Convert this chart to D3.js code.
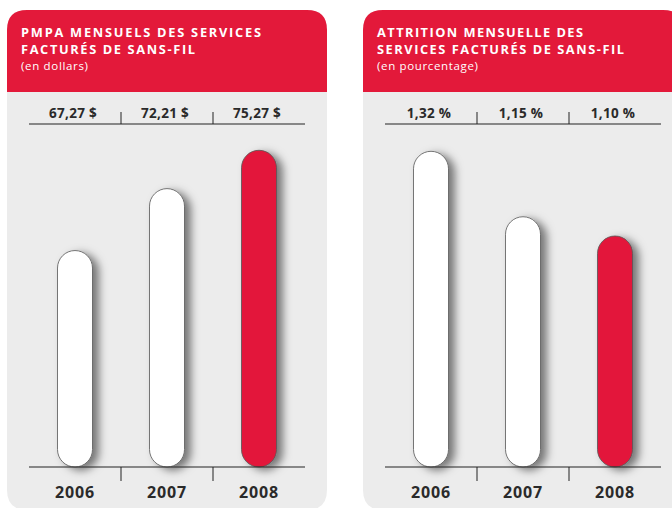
<html>
<head>
    <meta charset="utf-8">
    <title>PMPA et attrition</title>
    <script src="https://d3js.org/d3.v7.min.js"></script>
    <style>
        body { margin: 0; background: #fff; }
        text { font-family: "Open Sans", "DejaVu Sans", sans-serif; }
    </style>
</head>
<body>
<script>

    const width = 672;
    const height = 508;

    // data
    const years = ["2006", "2007", "2008"];
    const arpuValues = [67.27, 72.21, 75.27];
    const arpuLabels = ["67,27 $", "72,21 $", "75,27 $"];
    const churnValues = [1.32, 1.15, 1.10];
    const churnLabels = ["1,32 %", "1,15 %", "1,10 %"];
    const highlightYear = "2008";

    const red = "#E3193A";
    const grey = "#ECECEC";

    const panels = [
        {
            x: 7,
            title: ["PMPA MENSUELS DES SERVICES", "FACTURÉS DE SANS-FIL"],
            titleW: [240, 174],
            sub: "(en dollars)",
            subW: 67,
            values: arpuValues,
            labels: arpuLabels,
            domain: [50, 80],
            range: [467, 91]
        },
        {
            x: 363,
            title: ["ATTRITION MENSUELLE DES", "SERVICES FACTURÉS DE SANS-FIL"],
            titleW: [206, 247],
            sub: "(en pourcentage)",
            subW: 101,
            values: churnValues,
            labels: churnLabels,
            domain: [0.5, 1.4],
            range: [467, 120.5]
        }
    ];

    const svg = d3.select("body").append("svg")
        .attr("width", width)
        .attr("height", height);

    const defs = svg.append("defs");
    const f = defs.append("filter").attr("id", "shadow")
        .attr("x", "-50%").attr("y", "-20%").attr("width", "220%").attr("height", "140%");
    f.append("feDropShadow")
        .attr("dx", 6).attr("dy", 3)
        .attr("stdDeviation", 4)
        .attr("flood-color", "#000")
        .attr("flood-opacity", 0.5);

    const panelW = 320, panelTop = 10, headerBottom = 92, panelBottom = 510, r = 20;
    const baseline = 467, lineTop = 124;

    // rounded rect path, choose which corners are round
    const roundPath = (x0, y0, x1, y1, rt, rb) =>
        `M${x0},${y0 + rt} Q${x0},${y0} ${x0 + rt},${y0} L${x1 - rt},${y0} Q${x1},${y0} ${x1},${y0 + rt}` +
        ` L${x1},${y1 - rb} Q${x1},${y1} ${x1 - rb},${y1} L${x0 + rb},${y1} Q${x0},${y1} ${x0},${y1 - rb} Z`;

    panels.forEach(p => {
        const g = svg.append("g").attr("transform", `translate(${p.x},0)`);

        g.append("path").attr("d", roundPath(0, panelTop, panelW, panelBottom, r, r)).attr("fill", grey);
        g.append("path").attr("d", roundPath(0, panelTop, panelW, headerBottom, r, 0)).attr("fill", red);

        g.selectAll("text.title")
            .data(p.title)
            .enter()
            .append("text")
            .attr("class", "title")
            .attr("x", 14)
            .attr("y", (d, i) => 37 + i * 17)
            .attr("fill", "#fff")
            .attr("font-size", 12.8)
            .attr("font-weight", "bold")
            .attr("textLength", (d, i) => p.titleW[i])
            .attr("lengthAdjust", "spacing")
            .text(d => d);

        g.append("text")
            .attr("x", 14)
            .attr("y", 70)
            .attr("fill", "#fff")
            .attr("font-size", 11.5)
            .attr("textLength", p.subW)
            .attr("lengthAdjust", "spacing")
            .text(p.sub);

        const x = d3.scaleBand().domain(years).range([22, 298]);
        const y = d3.scaleLinear().domain(p.domain).range(p.range);
        const bw = 35;

        // value row
        g.append("line").attr("x1", 22).attr("x2", 298).attr("y1", lineTop).attr("y2", lineTop)
            .attr("stroke", "#222").attr("stroke-width", 1.2);
        g.selectAll("line.sepTop")
            .data(years.slice(1))
            .enter()
            .append("line")
            .attr("x1", d => x(d)).attr("x2", d => x(d))
            .attr("y1", lineTop - 12).attr("y2", lineTop)
            .attr("stroke", "#222");

        g.selectAll("text.val")
            .data(p.labels)
            .enter()
            .append("text")
            .attr("x", (d, i) => x(years[i]) + x.bandwidth() / 2 - 2)
            .attr("y", 118)
            .attr("text-anchor", "middle")
            .attr("fill", "#2a2a2a")
            .attr("font-size", 13.5)
            .attr("font-weight", "bold")
            .attr("letter-spacing", 0.3)
            .text(d => d);

        // bars
        g.selectAll("rect.bar")
            .data(p.values)
            .enter()
            .append("rect")
            .attr("x", (d, i) => x(years[i]) + x.bandwidth() / 2 - bw / 2)
            .attr("y", d => y(d))
            .attr("width", bw)
            .attr("height", d => baseline - y(d))
            .attr("rx", bw / 2)
            .attr("fill", (d, i) => years[i] === highlightYear ? red : "#fff")
            .attr("stroke", "#555")
            .attr("stroke-width", 0.8)
            .attr("filter", "url(#shadow)");

        // axis
        g.append("line").attr("x1", 22).attr("x2", 298).attr("y1", baseline).attr("y2", baseline)
            .attr("stroke", "#222").attr("stroke-width", 1.2);
        g.selectAll("line.sepBottom")
            .data(years.slice(1))
            .enter()
            .append("line")
            .attr("x1", d => x(d)).attr("x2", d => x(d))
            .attr("y1", baseline).attr("y2", baseline + 14)
            .attr("stroke", "#222");

        g.selectAll("text.year")
            .data(years)
            .enter()
            .append("text")
            .attr("x", d => x(d) + x.bandwidth() / 2)
            .attr("y", 498)
            .attr("text-anchor", "middle")
            .attr("fill", "#2a2a2a")
            .attr("font-size", 16)
            .attr("font-weight", "bold")
            .attr("letter-spacing", 0.8)
            .text(d => d);
    });

</script>
</body>
</html>
